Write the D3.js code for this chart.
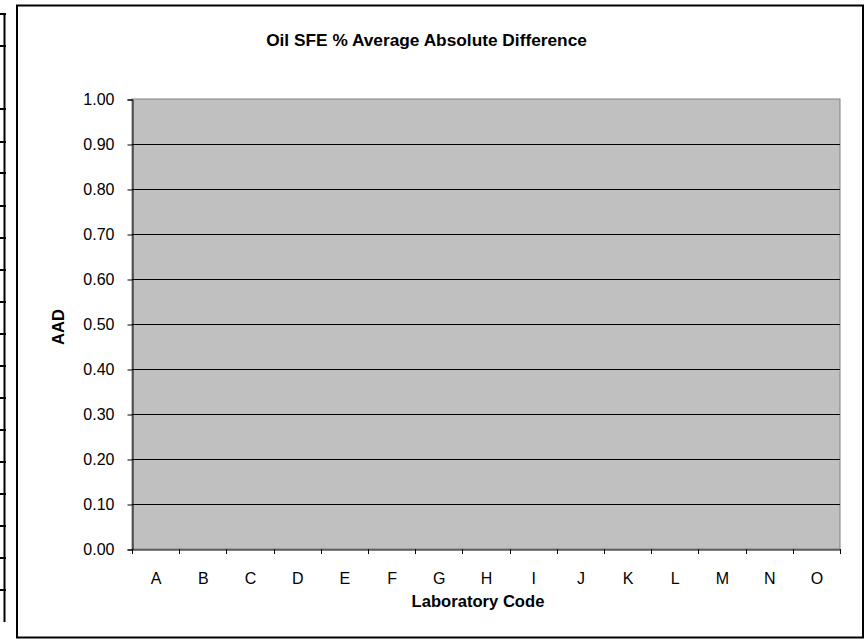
<!DOCTYPE html>
<html><head><meta charset="utf-8">
<script src="https://cdn.jsdelivr.net/npm/d3@7"></script>
<style>html,body{margin:0;padding:0;background:#fff;}svg{display:block;}</style>
</head><body>
<script>
const categories = ["A","B","C","D","E","F","G","H","I","J","K","L","M","N","O"];
const values = [null,null,null,null,null,null,null,null,null,null,null,null,null,null,null];
const yTicks = [0,0.1,0.2,0.3,0.4,0.5,0.6,0.7,0.8,0.9,1.0];
const title = "Oil SFE % Average Absolute Difference";
const xTitle = "Laboratory Code";
const yTitle = "AAD";
const stripMarks = [14,46,109,142,173,206,238,270,302,334,366,398,430,462,494,526,558,590];

const W = 865, H = 643;
const svg = d3.select("body").append("svg").attr("width", W).attr("height", H);
const font = "Arial, 'Liberation Sans', sans-serif";

// left partial table strip
svg.append("line").attr("x1",4.5).attr("x2",4.5).attr("y1",13).attr("y2",622)
  .attr("stroke","#000").attr("stroke-width",2);
svg.selectAll("line.mark").data(stripMarks).join("line").attr("class","mark")
  .attr("x1",0).attr("x2",6).attr("y1",d=>d).attr("y2",d=>d)
  .attr("stroke","#000").attr("stroke-width",2);

// outer chart frame
svg.append("rect").attr("x",17).attr("y",5.5).attr("width",846).attr("height",632)
  .attr("fill","#fff").attr("stroke","#000").attr("stroke-width",2);

const m = {left:132, right:840, top:99, bottom:549};
const x = d3.scaleBand().domain(categories).range([m.left, m.right]).padding(0);
const y = d3.scaleLinear().domain([0,1]).range([m.bottom, m.top]);

// plot area
svg.append("rect").attr("x",m.left).attr("y",m.top).attr("width",m.right-m.left).attr("height",m.bottom-m.top)
  .attr("fill","#C0C0C0").attr("stroke","#808080").attr("stroke-width",1);

// gridlines
svg.append("g").selectAll("line").data(yTicks.filter(d=>d>0 && d<1)).join("line")
  .attr("x1",m.left).attr("x2",m.right)
  .attr("y1",d=>Math.round(y(d))+0.5).attr("y2",d=>Math.round(y(d))+0.5)
  .attr("stroke","#000").attr("stroke-width",1);

// bars (no data)
svg.append("g").selectAll("rect").data(categories.map((c,i)=>({c,v:values[i]})).filter(d=>d.v!=null)).join("rect")
  .attr("x",d=>x(d.c)+x.bandwidth()*0.2).attr("width",x.bandwidth()*0.6)
  .attr("y",d=>y(d.v)).attr("height",d=>y(0)-y(d.v)).attr("fill","#9999FF").attr("stroke","#000");

// y axis
const yAxis = d3.axisLeft(y).tickValues(yTicks).tickFormat(d3.format(".2f")).tickSizeOuter(0).tickSize(5).tickPadding(13);
const gy = svg.append("g").attr("transform",`translate(${m.left+0.5},0.5)`).call(yAxis);
gy.select(".domain").attr("stroke","#000");
gy.selectAll(".tick line").attr("stroke","#000");
gy.selectAll("text").attr("font-family",font).attr("font-size","16px").attr("fill","#000");

// x axis
const xAxis = d3.axisBottom(x).tickSize(0).tickSizeOuter(0).tickPadding(0);
const gx = svg.append("g").attr("transform",`translate(0.5,${m.bottom+0.5})`).call(xAxis);
gx.select(".domain").attr("stroke","#000");
gx.selectAll("text").attr("font-family",font).attr("font-size","16px").attr("fill","#000")
  .attr("dy",null).attr("y",34);
// x tick marks at band boundaries
const bounds = categories.map(c=>x(c)).concat([x.range()[1]]);
svg.append("g").selectAll("line").data(bounds).join("line")
  .attr("x1",d=>Math.round(d)+0.5).attr("x2",d=>Math.round(d)+0.5)
  .attr("y1",m.bottom).attr("y2",m.bottom+5).attr("stroke","#000");

// titles
svg.append("text").attr("x",426.5).attr("y",46).attr("text-anchor","middle")
  .attr("font-family",font).attr("font-size","17.3px").attr("font-weight","bold").text(title);
svg.append("text").attr("x",478).attr("y",607).attr("text-anchor","middle")
  .attr("font-family",font).attr("font-size","16.6px").attr("font-weight","bold").text(xTitle);
svg.append("text").attr("transform","translate(64,327) rotate(-90)").attr("text-anchor","middle")
  .attr("font-family",font).attr("font-size","16.6px").attr("font-weight","bold").text(yTitle);
</script>
</body></html>
